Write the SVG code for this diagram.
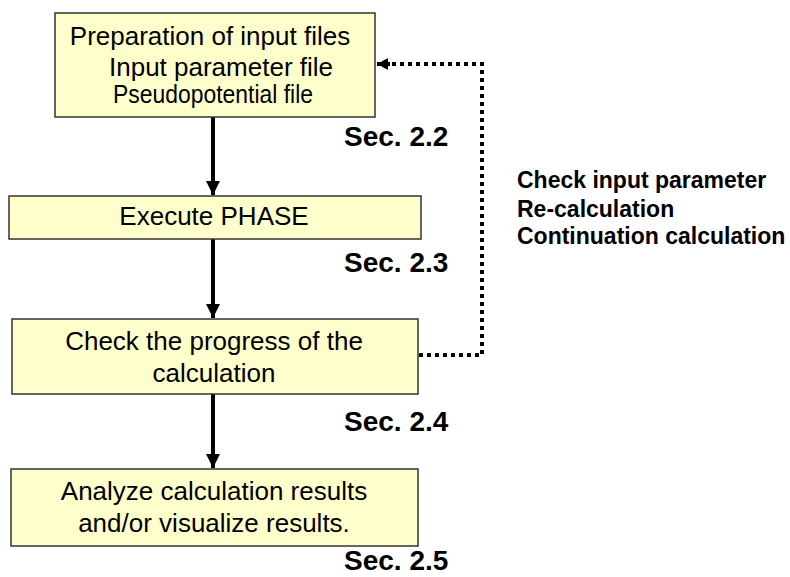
<svg xmlns="http://www.w3.org/2000/svg" width="790" height="577" viewBox="0 0 790 577">
<defs>
<style>
.box{fill:#FFFFCC;stroke:#333333;stroke-width:1.5}
.t{font-family:"Liberation Sans",Arial,sans-serif;font-size:26px;fill:#000;text-anchor:middle}
.sec{font-family:"Liberation Sans",Arial,sans-serif;font-size:28px;font-weight:bold;fill:#000}
.note{font-family:"Liberation Sans",Arial,sans-serif;font-size:23px;font-weight:bold;fill:#000}
.arr{stroke:#000;stroke-width:4;fill:none}
.dot{stroke:#000;stroke-width:4;fill:none;stroke-dasharray:4 4}
</style>
<marker id="ah" markerUnits="userSpaceOnUse" markerWidth="16" markerHeight="16" refX="14" refY="7" orient="auto">
<path d="M0,0 L14,7 L0,14 Z" fill="#000"/>
</marker>
<marker id="ah2" markerUnits="userSpaceOnUse" markerWidth="14" markerHeight="14" refX="11" refY="6" orient="auto">
<path d="M0,0 L11,6 L0,12 Z" fill="#000"/>
</marker>
</defs>
<rect width="790" height="577" fill="#fff"/>
<g id="connectors">
<line class="arr" x1="213" y1="117" x2="213" y2="195" marker-end="url(#ah)"/>
<line class="arr" x1="213" y1="239" x2="213" y2="318" marker-end="url(#ah)"/>
<line class="arr" x1="213" y1="394" x2="213" y2="468" marker-end="url(#ah)"/>
<path class="dot" d="M419,355 L482,355 L482,64 L388,64"/>
<line class="arr" x1="390" y1="64" x2="377" y2="64" marker-end="url(#ah2)" stroke-width="2"/>
</g>
<g id="n1">
<rect class="box" x="55" y="13" width="320" height="104"/>
<text class="t" x="210" y="45">Preparation of input files</text>
<text class="t" x="221" y="76">Input parameter file</text>
<text class="t" x="213" y="103" font-size="23" textLength="200" lengthAdjust="spacingAndGlyphs">Pseudopotential file</text>
</g>
<g id="n2">
<rect class="box" x="9" y="196" width="412" height="43"/>
<text class="t" x="214" y="225">Execute PHASE</text>
</g>
<g id="n3">
<rect class="box" x="12" y="319" width="406" height="75"/>
<text class="t" x="214" y="350">Check the progress of the</text>
<text class="t" x="214" y="382">calculation</text>
</g>
<g id="n4">
<rect class="box" x="11" y="469" width="407" height="77"/>
<text class="t" x="214" y="500">Analyze calculation results</text>
<text class="t" x="214" y="532">and/or visualize results.</text>
</g>
<g id="labels">
<text class="sec" x="344" y="146">Sec. 2.2</text>
<text class="sec" x="344" y="272">Sec. 2.3</text>
<text class="sec" x="344" y="431">Sec. 2.4</text>
<text class="sec" x="344" y="570">Sec. 2.5</text>
<text class="note" x="517" y="188">Check input parameter</text>
<text class="note" x="517" y="217">Re-calculation</text>
<text class="note" x="517" y="244">Continuation calculation</text>
</g>
</svg>
